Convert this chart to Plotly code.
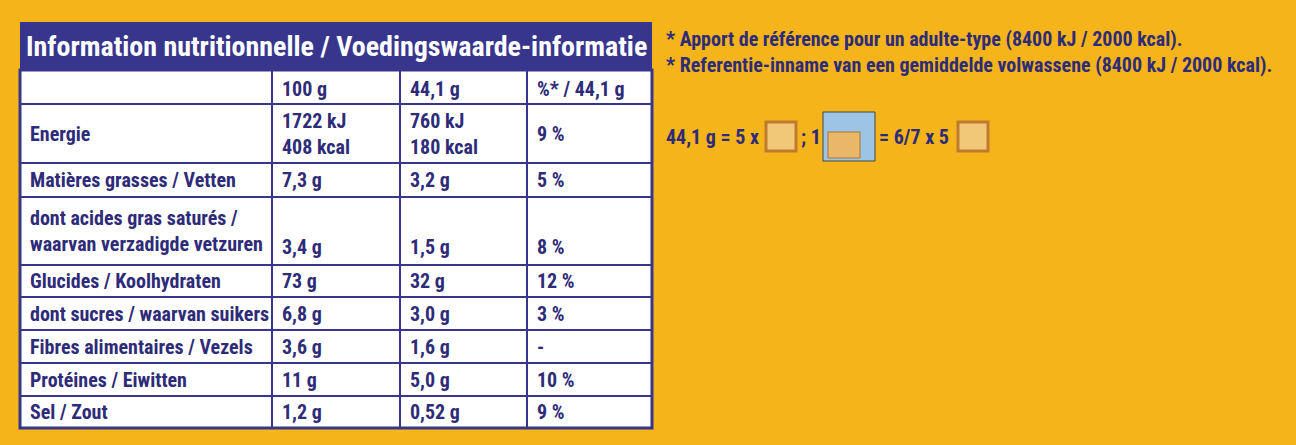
import plotly.graph_objects as go

# table content
title = "Information nutritionnelle / Voedingswaarde-informatie"
col_heads = ["", "100 g", "44,1 g", "%* / 44,1 g"]
labels = ["Energie", "Matières grasses / Vetten",
          "dont acides gras saturés /<br>waarvan verzadigde vetzuren",
          "Glucides / Koolhydraten", "dont sucres / waarvan suikers",
          "Fibres alimentaires / Vezels", "Protéines / Eiwitten", "Sel / Zout"]
per_100g = ["1722 kJ<br>408 kcal", "7,3 g", "3,4 g", "73 g", "6,8 g", "3,6 g", "11 g", "1,2 g"]
per_portion = ["760 kJ<br>180 kcal", "3,2 g", "1,5 g", "32 g", "3,0 g", "1,6 g", "5,0 g", "0,52 g"]
pct_ri = ["9 %", "5 %", "8 %", "12 %", "3 %", "-", "10 %", "9 %"]
notes = ["* Apport de référence pour un adulte-type (8400 kJ / 2000 kcal).",
         "* Referentie-inname van een gemiddelde volwassene (8400 kJ / 2000 kcal)."]

BG = "#F4B41A"
NAVY = "#2E2B78"
BAND = "#38368C"
FONT = "Liberation Sans Narrow, Roboto Condensed, Arial Narrow, sans-serif"
SIZE = 20

col_x = [20, 272, 400, 527, 652]
row_y = [70, 104, 163, 197, 265, 297, 330, 363, 396, 428]


def txt(s):
    return "<b>" + s.replace("<br>", "</b><br><b>") + "</b>" if s else s


shapes = []
ann = []

# title band + body
shapes.append(dict(type="rect", x0=20, x1=652, y0=22, y1=70, fillcolor=BAND, line=dict(width=0)))
shapes.append(dict(type="rect", x0=20, x1=652, y0=70, y1=428, fillcolor="white",
                   line=dict(color=BAND, width=3)))
for y in row_y[1:-1]:
    shapes.append(dict(type="line", x0=20, x1=652, y0=y, y1=y, line=dict(color=BAND, width=2)))
for x in col_x[1:-1]:
    shapes.append(dict(type="line", x0=x, x1=x, y0=70, y1=428, line=dict(color=BAND, width=2)))

ann.append(dict(x=336, y=46, text=txt(title), showarrow=False,
                font=dict(color="white", size=28, family=FONT), xanchor="center", yanchor="middle"))

for j, h in enumerate(col_heads):
    ann.append(dict(x=col_x[j] + 8, y=89, text=txt(h), showarrow=False, xanchor="left", yanchor="middle",
                    font=dict(color=NAVY, size=SIZE, family=FONT)))

for i, lab in enumerate(labels):
    top, bot = row_y[i + 1], row_y[i + 2]
    mid = (top + bot) / 2
    two_line_label = "<br>" in lab
    ann.append(dict(x=col_x[0] + 8, y=mid, text=txt(lab), showarrow=False, xanchor="left", yanchor="middle",
                    align="left", font=dict(color=NAVY, size=SIZE, family=FONT)))
    vy = bot - 18 if two_line_label else mid
    for j, v in enumerate([per_100g[i], per_portion[i], pct_ri[i]]):
        y = mid if "<br>" in v else vy
        ann.append(dict(x=col_x[j + 1] + 8, y=y, text=txt(v), showarrow=False, xanchor="left",
                        yanchor="middle", align="left", font=dict(color=NAVY, size=SIZE, family=FONT)))

for k, n in enumerate(notes):
    ann.append(dict(x=664, y=39 + 26 * k, text=txt(n), showarrow=False, xanchor="left", yanchor="middle",
                    font=dict(color=NAVY, size=SIZE, family=FONT)))

# portion line with rusk pictograms
for x, t in [(664, "44,1 g = 5 x"), (799, "; 1"), (877, "= 6/7 x 5")]:
    ann.append(dict(x=x, y=137, text=txt(t), showarrow=False, xanchor="left", yanchor="middle",
                    font=dict(color=NAVY, size=SIZE, family=FONT)))
for x0 in [766, 958]:
    shapes.append(dict(type="rect", x0=x0, x1=x0 + 30, y0=122, y1=151, fillcolor="#F0C878",
                       line=dict(color="#C07A30", width=3)))
shapes.append(dict(type="rect", x0=823, x1=875, y0=112, y1=161, fillcolor="#9CC4E4",
                   line=dict(color="#444444", width=1)))
shapes.append(dict(type="rect", x0=828, x1=860, y0=132, y1=158, fillcolor="#E8B868",
                   line=dict(color="#B07030", width=1)))

fig = go.Figure()
fig.update_layout(width=1296, height=445, margin=dict(l=0, r=0, t=0, b=0),
                  paper_bgcolor=BG, plot_bgcolor=BG, shapes=shapes, annotations=ann,
                  xaxis=dict(range=[0, 1296], visible=False),
                  yaxis=dict(range=[445, 0], visible=False), showlegend=False)
fig.write_html("out.html", config={"displayModeBar": False},
               post_script="document.body.style.margin='0';document.body.style.overflow='hidden';")
